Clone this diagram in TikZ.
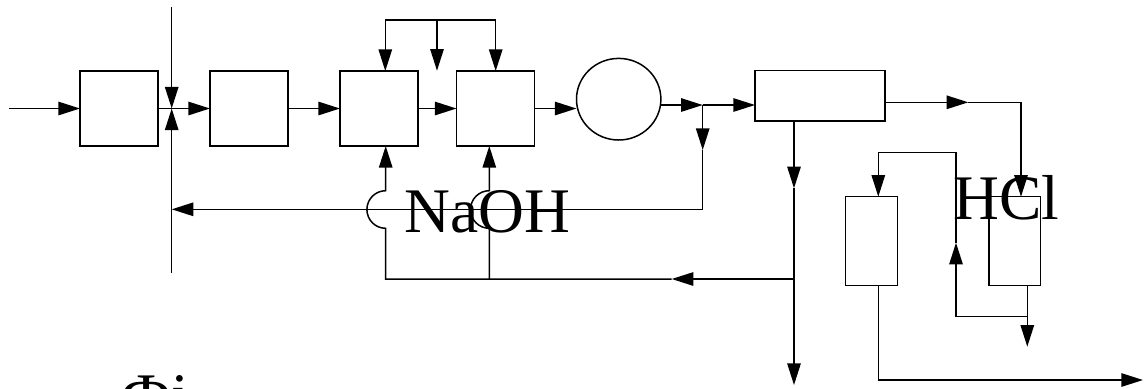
\documentclass[tikz,border=0pt]{standalone}
\usepackage{fontspec}
\setmainfont{Liberation Serif}
\usetikzlibrary{arrows.meta,shapes.geometric}
\begin{document}
\begin{tikzpicture}[x=0.5pt,y=-0.5pt,
  line width=0.75pt,
  arr/.style={-{Triangle[length=10.8pt,width=6.7pt]}},
  box/.style 2 args={draw,rectangle,inner sep=0pt,outer sep=0pt,minimum width=#1*0.5pt,minimum height=#2*0.5pt},
  lbl/.style={font=\fontsize{31.75pt}{36pt}\selectfont,inner sep=0pt,anchor=base}]
\useasboundingbox (0,0) rectangle (1146,388);
% boxes
\node[box={78}{75}] (b1) at (119,108.5) {};
\node[box={78}{75}] (b2) at (249,108.5) {};
\node[box={78}{75}] (b3) at (379,108.5) {};
\node[box={78}{75}] (b4) at (495.5,108.5) {};
\node[draw,ellipse,inner sep=0pt,outer sep=0pt,minimum width=84.4*0.5pt,minimum height=81.6*0.5pt] (circ) at (618.7,99.2) {};
\node[box={130}{50.3}] (b5) at (820,95.85) {};
\node[box={52}{89}] (b6) at (871.7,241.2) {};
\node[box={51.7}{89}] (b7) at (1014.85,241.2) {};
% coordinates
\coordinate (in0) at (9,108.5);
\coordinate (vx) at (171.7,108.5);
\coordinate (vt) at (171.7,7);
\coordinate (vb) at (171.7,272.7);
\coordinate (t1) at (385.3,20);
\coordinate (t2) at (437,20);
\coordinate (t3) at (495.7,20);
\coordinate (t4) at (437,70.7);
\coordinate (j1) at (702.7,105);
\coordinate (k1) at (702.7,150);
\coordinate (k2) at (702.7,209.3);
\coordinate (k3) at (171.7,209.3);
\coordinate (j2) at (794,279);
\coordinate (bm) at (671.7,279);
\coordinate (p1) at (385.7,279);
\coordinate (p2) at (489.3,279);
\coordinate (h1) at (385.7,228.3);
\coordinate (h2) at (489.3,228.3);
\coordinate (d1) at (794,188.3);
\coordinate (d2) at (794,385);
\coordinate (r1) at (968.3,102.3);
\coordinate (r2) at (1021,102.3);
\coordinate (l1) at (956,152.7);
\coordinate (l2) at (878.3,152.7);
\coordinate (c1) at (1027.3,316.7);
\coordinate (c2) at (956,316.7);
\coordinate (c3) at (956,242.7);
\coordinate (c4) at (1027.3,346.7);
\coordinate (e1) at (878.3,380);
\coordinate (e2) at (1143,380);
% main line
\draw[arr] (in0) -- (b1.west);
\draw[arr] (b1.east) -- (b2.west);
\draw[arr] (vt) -- (vx);
\draw[arr] (vb) -- (vx);
\draw[arr] (b2.east) -- (b3.west);
\draw[arr] (b3.east) -- (b4.west);
\draw[arr] (t2) -- (t1) -- (b3.north -| t1);
\draw[arr] (t2) -- (t3) -- (b4.north -| t3);
\draw[arr] (t2) -- (t4);
\draw[arr] (b4.east) -- (b4.east -| circ.west);
\draw[arr] (j1 -| circ.east) -- (j1);
\draw[arr] (j1) -- (j1 -| b5.west);
\draw[arr] (j1) -- (k1);
\draw[arr] (k1) -- (k2) -- (k3);
% bottom bus with hops
\draw[arr] (j2) -- (bm);
\draw[arr] (bm) -- (p1) -- (h1) arc[start angle=90,end angle=270,radius=18.8] -- (b3.south -| p1);
\draw[arr] (p2) -- (h2) arc[start angle=90,end angle=270,radius=18.8] -- (b4.south -| p2);
% right part
\draw[arr] (b5.south -| j2) -- (d1);
\draw[arr] (d1) -- (d2);
\draw[arr] (r1 -| b5.east) -- (r1);
\draw[arr] (r1) -- (r2) -- (b7.north -| r2);
\draw[arr] (b7.south -| c1) -- (c4);
\draw[arr] (c1) -- (c2) -- (c3);
\draw[arr] (c3) -- (l1) -- (l2) -- (b6.north -| l2);
\draw[arr] (b6.south -| l2) -- (e1) -- (e2);
% labels
\node[lbl] (naoh) at (487.1,232.7) {NaOH};
\node[lbl] (hcl) at (1006.7,219) {HCl};
\node[lbl,anchor=base west] (fig) at (121,417) {Фі};
\end{tikzpicture}
\end{document}
